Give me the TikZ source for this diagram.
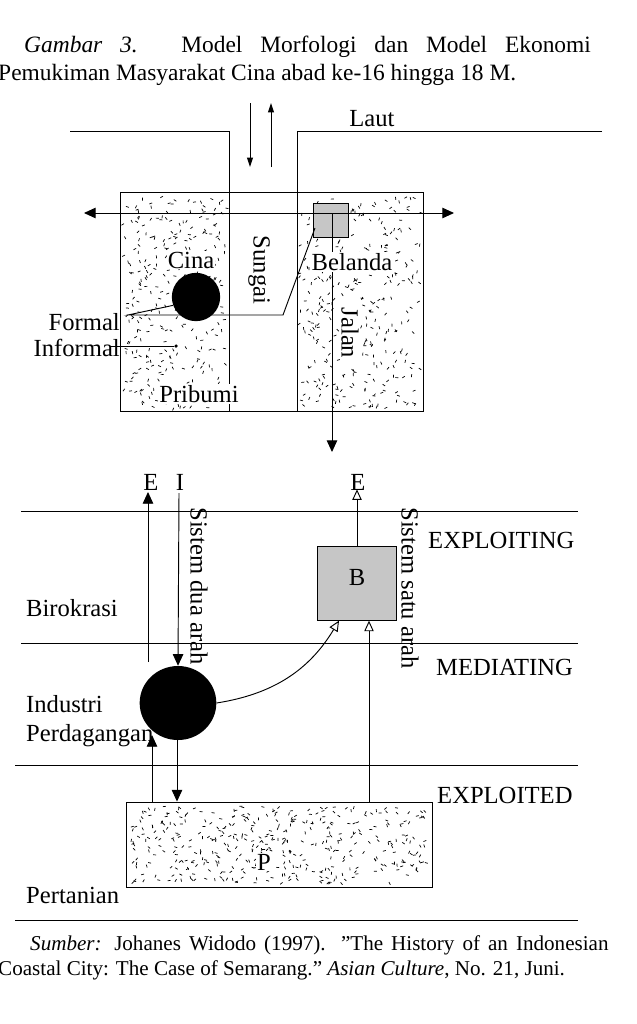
\documentclass[tikz,border=0pt]{standalone}
\usepackage{fontspec}
\setmainfont{Liberation Serif}
\usetikzlibrary{positioning,arrows.meta,shapes.geometric}
\tikzset{
	lbl/.style = {
		font=\fontsize{21}{24}\selectfont, inner sep=0pt
	}
}
\tikzset{
	zone/.style = {
		draw, thick, minimum width=0pt, minimum height=0pt, inner sep=0pt
	}
}
\tikzset{
	solidarrow/.style = {
		thick, -{Triangle[length=10pt,width=9pt]}
	}
}
\tikzset{
	openarrow/.style = {
		thick, -{Triangle[open,length=9pt,width=8pt]}
	}
}
\tikzset{
	layerline/.style = {
		thick
	}
}
% random specks inside a rectangle
\newcommand{\speckle}[5]{
	\foreach \k in {1,...,#5}{
		\pgfmathsetmacro{\sx}{#1+rnd*(#3-#1)}
		\pgfmathsetmacro{\sy}{#2+rnd*(#4-#2)}
		\pgfmathsetmacro{\sa}{rnd*180}
		\draw[line width=0.6pt] (\sx,\sy) -- ++(\sa:3);
	}
}

\begin{document}
\begin{tikzpicture}[x=0.03cm, y=-0.03cm]
	\pgfmathsetseed{7}
	\fill[white] (0,0) rectangle (636,1024);
	\useasboundingbox (0,0) rectangle (636,1024);

	% caption
	\node[anchor=base west, inner sep=0pt, font=\fontsize{20}{23}\selectfont](TitleA) at (24,52)
		{\makebox[17cm][s]{\textit{Gambar 3.} Model Morfologi dan Model Ekonomi}};
	\node[anchor=base west, inner sep=0pt, font=\fontsize{20}{23}\selectfont](TitleB) at (-2,80)
		{Pemukiman Masyarakat Cina abad ke-16 hingga 18 M.};

	% morphology
	\speckle{124}{196}{226}{408}{300}
	\speckle{300}{196}{420}{408}{320}
	\draw[thick] (120,192) rectangle (423,411);
	\draw[thick] (70,131) -- (229,131) -- (229,411);
	\draw[thick] (602,131) -- (297,131) -- (297,411);
	\node[zone, fill=gray!45, minimum width=1.05cm, minimum height=1.02cm](Belanda) at (330.5,220) {};
	\coordinate (WestEnd) at (84,213);
	\coordinate (EastEnd) at (454,213);
	\draw[thick, {Triangle[length=10pt,width=9pt]}-{Triangle[length=10pt,width=9pt]}] (WestEnd) -- (EastEnd);
	\coordinate (RiverTop) at (250,103);
	\coordinate (RiverMid) at (250,167);
	\coordinate (SeaTop) at (271,103);
	\coordinate (SeaMid) at (271,167);
	\draw[thick, -{Triangle[length=8pt,width=5pt]}] (RiverTop) -- (RiverMid);
	\draw[thick, -{Triangle[length=8pt,width=5pt]}] (SeaMid) -- (SeaTop);
	\coordinate (RoadEnd) at (332,452);
	\draw[solidarrow] (332,213) -- (RoadEnd);
	\node[circle, fill=black, minimum size=1.45cm, inner sep=0pt](Cina) at (196,297) {};
	\node[circle, fill=black, minimum size=3pt, inner sep=0pt](Kampung) at (176,346) {};
	\node[lbl, anchor=east](Formal) at (120,322) {Formal};
	\node[lbl, anchor=east](Informal) at (120,348) {Informal};
	\coordinate (FormalHub) at (128,315);
	\coordinate (FormalBend) at (283,315);
	\draw[thick] (Cina.200) -- (FormalHub) -- (FormalBend) -- (315,228);
	\draw[thick] (110,346) -- (Kampung);
	\node[lbl, fill=white, inner sep=1pt] at (191,260) {Cina};
	\node[lbl, fill=white, inner sep=1pt] at (352,262) {Belanda};
	\node[lbl, fill=white, inner sep=1pt] at (199,394) {Pribumi};
	\node[lbl] at (372,119) {Laut};
	\node[lbl, rotate=-90] at (259,270) {Sungai};
	\node[lbl, rotate=-90, fill=white, inner sep=1pt] at (350,333) {Jalan};

	% economy
	\draw[layerline] (21,511) -- (578,511);
	\draw[layerline] (21,643) -- (578,643);
	\draw[layerline] (15,765) -- (578,765);
	\draw[layerline] (15,920) -- (578,920);
	\node[lbl](ExitE) at (151,482) {E};
	\node[lbl](EntryI) at (180,482) {I};
	\node[lbl](ExitB) at (358,482) {E};
	\node[ellipse, fill=black, minimum width=2.3cm, minimum height=2.22cm, inner sep=0pt](Hub) at (178,703) {};
	\node[zone, fill=gray!45, minimum width=2.35cm, minimum height=2.2cm](B) at (357,583.5) {};
	\node[lbl] at (357,577) {B};
	\speckle{130}{806}{428}{883}{420}
	\node[zone, minimum width=9.18cm, minimum height=2.55cm](P) at (279,844.5) {};
	\node[lbl, fill=white, inner sep=1pt] at (264,862) {P};
	\draw[solidarrow] (148,662) -- (148,492);
	\draw[solidarrow] (179,493) -- (Hub.north);
	\draw[openarrow] (B.north) -- ++(0,-57);
	\draw[openarrow] (Hub.east) to[bend right=25] (339,0 |- B.south);
	\draw[openarrow] (369,0 |- P.north) -- (369,0 |- B.south);
	\draw[solidarrow] (177,0 |- Hub.south) -- (177,0 |- P.north);
	\draw[solidarrow] (152,0 |- P.north) -- (152,735);
	\node[lbl, rotate=-90] at (199,586) {Sistem dua arah};
	\node[lbl, rotate=-90] at (410,588) {Sistem satu arah};
	\node[lbl, anchor=west] at (26,608) {Birokrasi};
	\node[lbl, anchor=west] at (26,704) {Industri};
	\node[lbl, anchor=west] at (26,736) {Perdagangan};
	\node[lbl, anchor=west] at (26,895) {Pertanian};
	\node[lbl, anchor=west] at (428,540) {EXPLOITING};
	\node[lbl, anchor=west] at (436,667) {MEDIATING};
	\node[lbl, anchor=west] at (437,795) {EXPLOITED};

	% source
	\node[anchor=base west, inner sep=0pt, font=\fontsize{18}{21}\selectfont](SrcA) at (30,950)
		{\makebox[17.35cm][s]{\textit{Sumber:} Johanes Widodo (1997). "The History of an Indonesian}};
	\node[anchor=base west, inner sep=0pt, font=\fontsize{18}{21}\selectfont](SrcB) at (-2,975)
		{Coastal City: The Case of Semarang." \textit{Asian Culture}, No. 21, Juni.};
\end{tikzpicture}
\end{document}
